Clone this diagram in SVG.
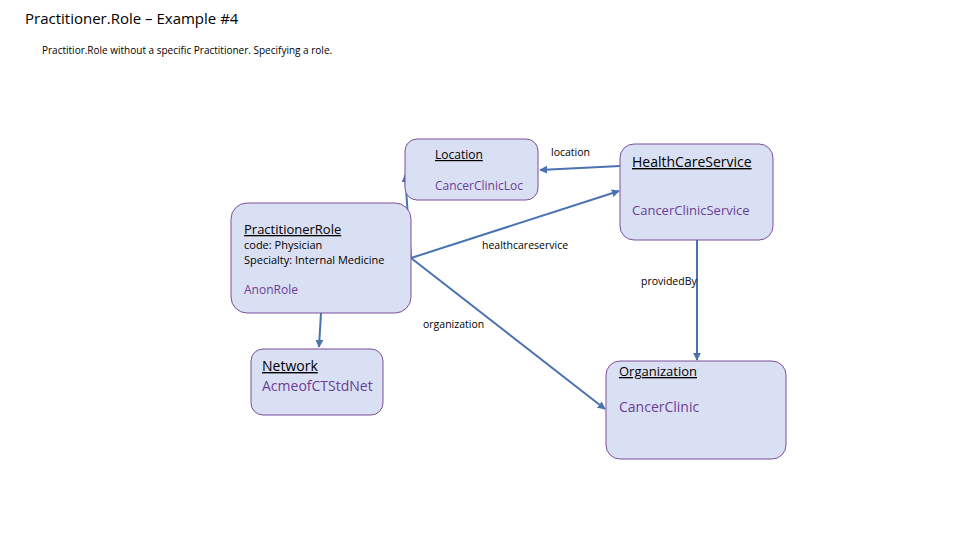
<svg xmlns="http://www.w3.org/2000/svg" width="960" height="540" viewBox="0 0 960 540">
<style>
text{font-family:"Open Sans","Liberation Sans",sans-serif}
.box{fill:#dae0f3;stroke:#7a4f9a;stroke-width:1}
.h{font-size:13px;fill:#000;text-decoration:underline}
.v{font-size:14px;fill:#6a3d96}
.s{font-size:11px;fill:#000}
.l{font-size:10.5px;fill:#000}
.c{stroke:#4a72b0;stroke-width:2;fill:none;marker-end:url(#a)}
</style>
<defs><marker id="a" viewBox="0 0 10 10" refX="9" refY="5" markerWidth="4" markerHeight="4" orient="auto"><path d="M0,0L10,5L0,10z" fill="#4a72b0"/></marker></defs>
<rect width="960" height="540" fill="#fff"/>
<text x="25" y="24" style="font-size:15px">Practitioner.Role – Example #4</text>
<text x="42" y="54" style="font-size:10px">Practitior.Role without a specific Practitioner.  Specifying a role.</text>
<g id="connectors">
<path class="c" d="M411,258L405,175"/>
<path class="c" d="M411,258L619,191"/>
<path class="c" d="M411,258L605,409"/>
<path class="c" d="M321,313L319,347"/>
<path class="c" d="M697,240L697,360"/>
<path class="c" d="M620,166L540,170"/>
<text class="l" x="551" y="156">location</text>
<text class="l" x="482" y="249">healthcareservice</text>
<text class="l" x="641" y="285">providedBy</text>
<text class="l" x="423" y="328">organization</text>
</g>
<g id="location"><rect class="box" x="405" y="139" width="133" height="61" rx="12"/>
<text class="h" x="435" y="159" style="font-size:12px">Location</text><text class="v" x="435" y="190" style="font-size:12px">CancerClinicLoc</text></g>
<g id="hcs"><rect class="box" x="620" y="144" width="153" height="96" rx="14"/>
<text class="h" x="632" y="167" style="font-size:14px">HealthCareService</text><text class="v" x="632" y="215" style="font-size:13px">CancerClinicService</text></g>
<g id="pr"><rect class="box" x="231" y="203" width="180" height="110" rx="16"/>
<text class="h" x="244" y="234">PractitionerRole</text>
<text class="s" x="244" y="249">code: Physician</text>
<text class="s" x="244" y="264">Specialty:  Internal Medicine</text>
<text class="v" x="244" y="294" style="font-size:12px">AnonRole</text></g>
<g id="network"><rect class="box" x="251" y="349" width="132" height="66" rx="12"/>
<text class="h" x="262" y="371" style="font-size:14px">Network</text><text class="v" x="262" y="391">AcmeofCTStdNet</text></g>
<g id="org"><rect class="box" x="606" y="361" width="180" height="98" rx="14"/>
<text class="h" x="619" y="376">Organization</text><text class="v" x="619" y="412">CancerClinic</text></g>
</svg>
